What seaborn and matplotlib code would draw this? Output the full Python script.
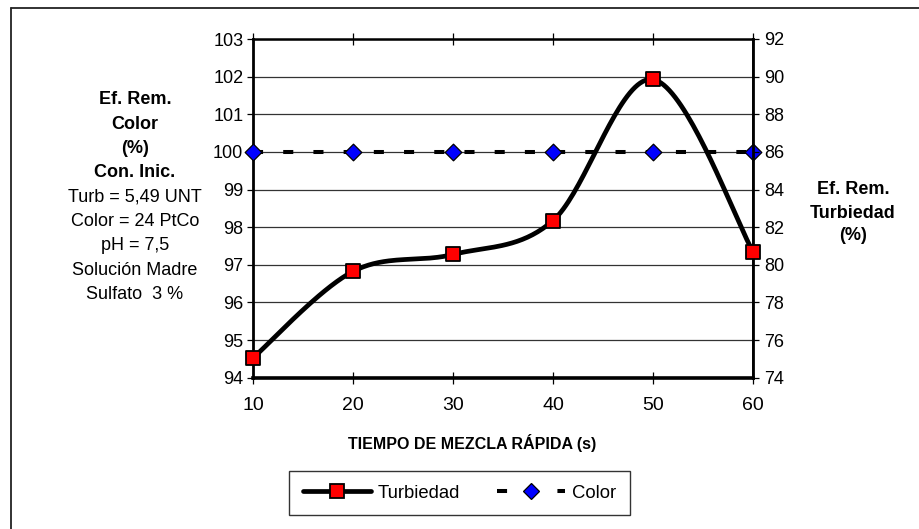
import numpy as np
import pandas as pd
import matplotlib
matplotlib.use("Agg")
import matplotlib.pyplot as plt
from matplotlib.lines import Line2D
import seaborn as sns

# Data
tiempo = [10, 20, 30, 40, 50, 60]
ef_turbiedad = [75.05, 79.65, 80.55, 82.35, 89.85, 80.7]
ef_color = [100, 100, 100, 100, 100, 100]

left_ticks = list(range(94, 104))
right_ticks = list(range(74, 93, 2))
x_ticks = [10, 20, 30, 40, 50, 60]

sns.set_theme(style="white")
plt.rcParams["font.family"] = ["Liberation Sans", "DejaVu Sans"]


def smooth_curve(x, y, n=40):
    """Piecewise cubic Bezier through the points (Catmull-Rom style smoothing)."""
    x = np.asarray(x, float)
    y = np.asarray(y, float)
    pts = np.column_stack([x, y])
    ext = np.vstack([pts[0], pts, pts[-1]])
    out = []
    t = np.linspace(0, 1, n)[:, None]
    for i in range(len(pts) - 1):
        p0, p1, p2, p3 = ext[i], ext[i + 1], ext[i + 2], ext[i + 3]
        c1 = p1 + (p2 - p0) / 6.0
        c2 = p2 - (p3 - p1) / 6.0
        seg = ((1 - t) ** 3) * p1 + 3 * ((1 - t) ** 2) * t * c1 + 3 * (1 - t) * t ** 2 * c2 + t ** 3 * p2
        out.append(seg if i == 0 else seg[1:])
    res = np.vstack(out)
    return res[:, 0], res[:, 1]


fig = plt.figure(figsize=(9.19, 5.29), dpi=100)
fig.patch.set_facecolor("white")

# Outer frame (left and top edges visible)
fig.add_artist(Line2D([11 / 919, 11 / 919], [0, 1 - 8 / 529], transform=fig.transFigure,
                      color="#222222", lw=1.3))
fig.add_artist(Line2D([11 / 919, 1.0], [1 - 8 / 529, 1 - 8 / 529], transform=fig.transFigure,
                      color="#222222", lw=1.3))

ax = fig.add_axes([253 / 919, 1 - 377.7 / 529, (753 - 253) / 919, (377.7 - 39) / 529])
ax2 = ax.twinx()

DASH = (2.5, 5.0)

df_color = pd.DataFrame({"t": tiempo, "c": ef_color})
sns.lineplot(data=df_color, x="t", y="c", ax=ax, color="black", lw=2.9,
             dashes=False, zorder=3, legend=False)
ax.lines[-1].set_dashes(DASH)
sns.scatterplot(data=df_color, x="t", y="c", ax=ax, marker="D", s=72, color="#0000ff",
                edgecolor="black", linewidth=0.9, zorder=4, legend=False, clip_on=False)

xs, ys = smooth_curve(tiempo, ef_turbiedad)
df_smooth = pd.DataFrame({"t": xs, "v": ys})
df_turb = pd.DataFrame({"t": tiempo, "v": ef_turbiedad})
sns.lineplot(data=df_smooth, x="t", y="v", ax=ax2, color="black", lw=3.4, sort=False,
             estimator=None, legend=False, zorder=3)
sns.scatterplot(data=df_turb, x="t", y="v", ax=ax2, marker="s", s=105, color="#ff0000",
                edgecolor="black", linewidth=1.3, zorder=5, legend=False, clip_on=False)

ax.set_xlim(10, 60)
ax.set_ylim(94, 103)
ax2.set_ylim(74, 92)
ax.set_xticks(x_ticks)
ax.set_yticks(left_ticks)
ax2.set_yticks(right_ticks)
ax.set_xticklabels([str(v) for v in x_ticks])
ax.set_yticklabels([str(v) for v in left_ticks])
ax2.set_yticklabels([str(v) for v in right_ticks])
ax.set_xlabel("")
ax.set_ylabel("")
ax2.set_xlabel("")
ax2.set_ylabel("")

ax.grid(axis="y", color="#333333", lw=0.9)
ax.grid(axis="x", visible=False)
ax2.grid(False)
ax.set_axisbelow(True)

for a in (ax, ax2):
    for s in a.spines.values():
        s.set_color("black")
ax.spines["left"].set_linewidth(2.0)
ax.spines["bottom"].set_linewidth(2.6)
ax.spines["top"].set_linewidth(1.8)
ax2.spines["right"].set_linewidth(2.0)
ax2.spines["left"].set_visible(False)
ax2.spines["top"].set_visible(False)
ax2.spines["bottom"].set_visible(False)

ax.tick_params(axis="x", which="both", bottom=True, top=True, direction="inout", length=8,
               width=0.9, color="black", labelsize=14, pad=10)
ax.tick_params(axis="y", left=True, direction="out", length=4, width=0.9, color="black",
               labelsize=13, pad=3)
ax2.tick_params(axis="y", right=True, direction="out", length=4, width=0.9, color="black",
                labelsize=13, pad=4)
for lab in ax.get_xticklabels() + ax.get_yticklabels() + ax2.get_yticklabels():
    lab.set_color("black")

# Axis titles and notes
fig.text(472 / 919, 1 - 443 / 529, "TIEMPO DE MEZCLA RÁPIDA (s)", ha="center", va="center",
         fontsize=11.5, fontweight="bold", color="black")

left_lines = [("Ef. Rem.", True), ("Color", True), ("(%)", True), ("Con. Inic.", True),
              ("Turb = 5,49 UNT", False), ("Color = 24 PtCo", False), ("pH = 7,5", False),
              ("Solución Madre", False), ("Sulfato  3 %", False)]
y0 = 100
for i, (txt, bold) in enumerate(left_lines):
    fig.text(135 / 919, 1 - (y0 + i * 24.3) / 529, txt, ha="center", va="center",
             fontsize=13, fontweight="bold" if bold else "normal", color="black")

right_lines = ["Ef. Rem.", "Turbiedad", "(%)"]
for i, txt in enumerate(right_lines):
    fig.text(853 / 919, 1 - (190 + i * 23.0) / 529, txt, ha="center", va="center",
             fontsize=13, fontweight="bold", color="black")

# Legend
h_turb = Line2D([], [], color="black", lw=3.4, marker="s", markersize=10,
                markerfacecolor="#ff0000", markeredgecolor="black", markeredgewidth=1.3)
h_color = Line2D([], [], color="black", lw=2.9, dashes=DASH, marker="D", markersize=8,
                 markerfacecolor="#0000ff", markeredgecolor="black", markeredgewidth=0.9)
leg = fig.legend([h_turb, h_color], ["Turbiedad", "Color"], loc="center",
                 bbox_to_anchor=(459.5 / 919, 1 - 493 / 529), ncol=2, frameon=True,
                 fontsize=13.3, handlelength=3.7, handletextpad=0.35, columnspacing=2.0,
                 borderpad=0.75, fancybox=False)
leg.get_frame().set_edgecolor("black")
leg.get_frame().set_linewidth(1.0)
for t in leg.get_texts():
    t.set_color("black")

fig.savefig("out.png", dpi=100, facecolor="white")
